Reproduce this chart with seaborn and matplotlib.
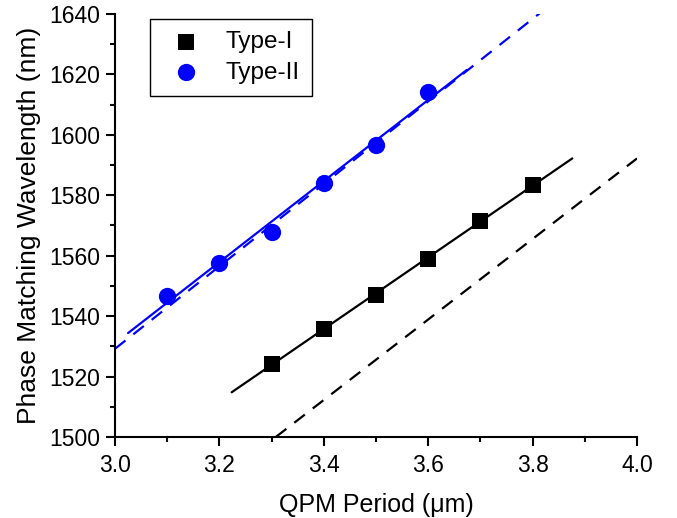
import matplotlib
matplotlib.use("Agg")
import matplotlib.pyplot as plt
from matplotlib.ticker import MultipleLocator, FormatStrFormatter
import seaborn as sns

# Measured data
type1_x = [3.3, 3.4, 3.5, 3.6, 3.7, 3.8]
type1_y = [1524.2, 1535.9, 1547.0, 1558.8, 1571.5, 1583.4]
type2_x = [3.1, 3.2, 3.3, 3.4, 3.5, 3.6]
type2_y = [1546.6, 1557.7, 1567.8, 1584.2, 1596.7, 1614.3]

# Linear fit (solid) and theory (dashed) lines, endpoints
fit1_x = [3.2235, 3.876]
fit1_y = [1514.8, 1592.2]
theo1_x = [3.308, 4.0]
theo1_y = [1500.0, 1592.2]
fit2_x = [3.025, 3.674]
fit2_y = [1534.4, 1621.5]
theo2_x = [3.0, 3.814]
theo2_y = [1529.2, 1640.3]

sns.set_style("ticks")
plt.rcParams['font.family'] = ['Liberation Sans', 'DejaVu Sans']
plt.rcParams['text.color'] = 'black'
plt.rcParams['axes.labelcolor'] = 'black'
plt.rcParams['xtick.color'] = 'black'
plt.rcParams['ytick.color'] = 'black'

fig = plt.figure(figsize=(6.77, 5.18), dpi=100)
ax = fig.add_axes([0.1699, 0.1564, 0.7711, 0.8166])

blue = "#0000ff"
lw = 1.6
sns.lineplot(x=fit1_x, y=fit1_y, ax=ax, color="black", lw=lw, zorder=2)
sns.lineplot(x=theo1_x, y=theo1_y, ax=ax, color="black", lw=lw, zorder=2)
ax.lines[-1].set_dashes((6, 4.5))
sns.lineplot(x=fit2_x, y=fit2_y, ax=ax, color=blue, lw=lw, zorder=2)
sns.lineplot(x=theo2_x, y=theo2_y, ax=ax, color=blue, lw=lw, zorder=2)
ax.lines[-1].set_dashes((6, 4.5))

sns.scatterplot(x=type1_x, y=type1_y, ax=ax, marker="s", s=135, color="black",
                edgecolor="black", linewidth=0, label="Type-I", zorder=3)
sns.scatterplot(x=type2_x, y=type2_y, ax=ax, marker="o", s=155, color=blue,
                edgecolor=blue, linewidth=0, label="Type-II", zorder=3)

ax.set_xlim(3.0, 4.0)
ax.set_ylim(1500, 1640)
ax.xaxis.set_major_locator(MultipleLocator(0.2))
ax.xaxis.set_minor_locator(MultipleLocator(0.1))
ax.yaxis.set_major_locator(MultipleLocator(20))
ax.yaxis.set_minor_locator(MultipleLocator(10))
ax.xaxis.set_major_formatter(FormatStrFormatter('%.1f'))

for s in ["top", "right"]:
    ax.spines[s].set_visible(False)
for s in ["left", "bottom"]:
    ax.spines[s].set_linewidth(1.5)
    ax.spines[s].set_color("black")

ax.tick_params(axis="both", which="major", direction="out", length=6.5, width=1.5,
               labelsize=16.5, colors="black")
ax.tick_params(axis="y", which="major", pad=4)
ax.tick_params(axis="x", which="major", pad=6)
ax.tick_params(axis="both", which="minor", direction="out", length=3.6, width=1.5)

ax.set_xlabel("QPM Period (\u03bcm)", fontsize=18, labelpad=11)
ax.set_ylabel("Phase Matching Wavelength (nm)", fontsize=19, labelpad=6)

leg = ax.legend(loc="upper left", bbox_to_anchor=(0.067, 0.988), borderaxespad=0,
                fontsize=17.5, frameon=True, fancybox=False, framealpha=1,
                edgecolor="black", handletextpad=0.6, borderpad=0.5,
                labelspacing=0.35, handlelength=2.0)
leg.get_frame().set_linewidth(1.0)

fig.savefig("out.png", dpi=100)
